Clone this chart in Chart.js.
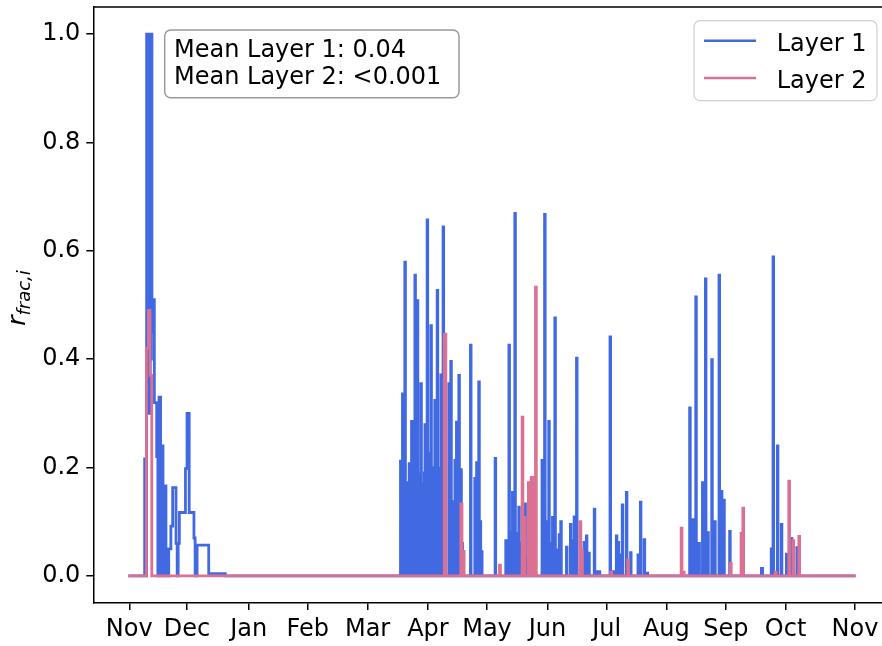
<!DOCTYPE html>
<html>
<head>
<meta charset="utf-8">
<script src="https://cdn.jsdelivr.net/npm/chart.js@4.4.1/dist/chart.umd.min.js"></script>
<style>
    html, body {margin: 0; padding: 0; background: #fff;}
    #wrap {width: 882px; height: 646px;}
</style>
</head>
<body>
<div id="wrap"><canvas id="myChart" width="882" height="646"></canvas></div>
<script>
// days since start of record (Nov), value held until next point
const layer1 = [
    [0, 0], [8.3, 0.216], [8.8, 0],
    [9.3, 1.0], [9.6, 0.3], [9.9, 1.0], [10.2, 0.35], [10.5, 1.0], [10.8, 0.3], [11.1, 1.0], [11.4, 0.4], [11.7, 1.0], [12.0, 0.45],
    [12.3, 0.51], [13.2, 0.32], [14.4, 0.22], [15.0, 0], [15.6, 0.33], [16.4, 0], [17.1, 0.24], [17.6, 0],
    [18.1, 0.166], [19.1, 0], [20.5, 0.05], [21.6, 0.092], [22.5, 0.163], [24.2, 0.06], [24.8, 0], [25.3, 0.06],
    [25.9, 0.117], [29.0, 0.198], [29.8, 0.30], [30.9, 0.117], [33.3, 0.07], [33.9, 0], [34.9, 0.057], [40.8, 0.004], [49.2, 0],
    // April
    [138.1, 0.212], [138.4, 0], [138.6, 0.15], [138.85, 0],
    [139.1, 0.336], [139.4, 0], [139.7, 0.17], [140.0, 0],
    [140.3, 0.579], [140.6, 0], [140.9, 0.16], [141.2, 0],
    [141.5, 0.172], [141.8, 0], [142.0, 0.15], [142.25, 0],
    [142.5, 0.207], [142.8, 0], [143.1, 0.19], [143.4, 0],
    [143.7, 0.285], [144.0, 0], [144.4, 0.17], [144.7, 0], [145.0, 0.18], [145.2, 0],
    [145.4, 0.555], [145.7, 0], [146.0, 0.2], [146.3, 0],
    [146.6, 0.508], [146.9, 0], [147.2, 0.17], [147.4, 0],
    [147.6, 0.188], [147.9, 0], [148.1, 0.16], [148.2, 0],
    [148.4, 0.355], [148.7, 0], [149.0, 0.17], [149.3, 0],
    [149.6, 0.15], [149.9, 0], [150.2, 0.19], [150.3, 0],
    [150.5, 0.279], [150.8, 0], [151.1, 0.16], [151.3, 0],
    [151.6, 0.657], [151.9, 0], [152.2, 0.2], [152.4, 0],
    [152.6, 0.226], [152.9, 0], [153.2, 0.18], [153.3, 0],
    [153.5, 0.462], [153.8, 0], [154.1, 0.17], [154.4, 0],
    [154.7, 0.174], [155.0, 0], [155.2, 0.2], [155.3, 0],
    [155.5, 0.324], [155.8, 0], [156.1, 0.16], [156.4, 0],
    [156.7, 0.527], [157.0, 0], [157.3, 0.18], [157.5, 0],
    [157.7, 0.199], [158.0, 0], [158.3, 0.15], [158.4, 0],
    [158.6, 0.371], [158.9, 0], [159.2, 0.2], [159.4, 0],
    [159.7, 0.644], [160.0, 0],
    [162.6, 0.355], [162.9, 0], [163.2, 0.15], [163.4, 0],
    [163.6, 0.396], [163.9, 0], [164.2, 0.12], [164.3, 0],
    [164.5, 0.137], [164.8, 0], [165.2, 0.1], [165.4, 0],
    [165.7, 0.213], [166.0, 0], [166.3, 0.14], [166.4, 0],
    [166.5, 0.284], [166.8, 0], [167.2, 0.15], [167.4, 0],
    [167.7, 0.37], [168.0, 0], [168.3, 0.12], [168.5, 0],
    [168.7, 0.196], [169.0, 0], [169.4, 0.06], [169.6, 0],
    [169.9, 0.045], [170.2, 0],
    [173.6, 0.426], [173.9, 0],
    [175.8, 0.18], [176.1, 0], [176.4, 0.1], [176.6, 0], [176.7, 0.209], [177.0, 0], [177.3, 0.12], [177.5, 0],
    [177.8, 0.358], [178.1, 0], [178.5, 0.1], [178.8, 0], [179.2, 0.045], [179.5, 0],
    // May - June
    [186.1, 0.217], [186.4, 0],
    [191.5, 0.065], [191.8, 0], [192.2, 0.04], [192.5, 0], [193.1, 0.426], [193.4, 0], [194.0, 0.08], [194.3, 0],
    [194.9, 0.154], [195.2, 0], [195.6, 0.09], [195.8, 0], [196.1, 0.669], [196.4, 0], [197.1, 0.079], [197.4, 0],
    [198.1, 0.127], [198.4, 0], [199.6, 0.06], [199.9, 0], [201.2, 0.133], [201.5, 0], [202.5, 0.03], [202.8, 0],
    [209.9, 0.213], [210.2, 0], [210.6, 0.08], [210.9, 0], [211.2, 0.667], [211.5, 0], [212.0, 0.1], [212.6, 0],
    [213.3, 0.285], [213.6, 0], [214.2, 0.06], [214.5, 0], [215.2, 0.108], [215.5, 0], [216.4, 0.476], [216.7, 0],
    [217.4, 0.048], [217.7, 0], [218.6, 0.076], [218.9, 0], [219.4, 0.1], [219.7, 0],
    [222.3, 0.053], [222.6, 0], [224.3, 0.095], [224.6, 0], [225.3, 0.065], [225.6, 0], [226.2, 0.109], [226.5, 0],
    [227.4, 0.402], [227.7, 0],
    [231.2, 0.062], [231.5, 0], [232.4, 0.074], [232.7, 0], [233.6, 0.042], [233.9, 0], [236.4, 0.123], [236.7, 0],
    [237.7, 0.008], [239.2, 0],
    // July
    [244.4, 0.441], [244.7, 0], [245.5, 0.008], [246.2, 0], [247.6, 0.074], [247.9, 0], [248.5, 0.062], [248.8, 0],
    [249.3, 0.039], [249.6, 0], [250.6, 0.131], [250.9, 0], [252.7, 0.154], [253.0, 0], [254.8, 0.043], [255.1, 0],
    [258.6, 0.039], [258.9, 0], [259.8, 0.136], [260.1, 0], [261.7, 0.067], [262.0, 0], [262.5, 0.005], [263.5, 0],
    // Aug - Sep
    [284.8, 0.31], [285.1, 0], [286.5, 0.104], [286.8, 0], [287.9, 0.515], [288.2, 0], [289.5, 0.06], [289.8, 0],
    [291.3, 0.172], [291.6, 0], [292.8, 0.548], [293.1, 0], [294.0, 0.08], [294.3, 0], [296.0, 0.399], [296.3, 0],
    [297.5, 0.1], [297.8, 0], [299.7, 0.555], [300.0, 0], [300.9, 0.156], [301.2, 0], [302.1, 0.14], [302.4, 0],
    [305.1, 0.082], [305.4, 0],
    // Sep - Oct
    [321.2, 0.014], [321.8, 0],
    [326.2, 0.05], [326.5, 0], [327.1, 0.589], [327.4, 0], [329.3, 0.24], [329.6, 0], [331.3, 0.095], [331.6, 0],
    [333.9, 0.04], [334.2, 0], [335.5, 0.06], [335.8, 0], [336.4, 0.069], [336.7, 0], [339.2, 0.052], [339.5, 0],
    [369, 0]
];

const layer2 = [
    [0, 0], [9.2, 0.42], [10.2, 0.49], [11.0, 0.37], [11.9, 0],
    [160.3, 0.446], [161.1, 0],
    [168.7, 0.133], [169.3, 0], [169.9, 0.045], [170.3, 0],
    [188.3, 0.02], [188.8, 0],
    [199.8, 0.293], [200.2, 0], [201.0, 0.108], [201.3, 0], [203.0, 0.172], [203.4, 0],
    [204.4, 0.182], [205.6, 0], [206.6, 0.533], [207.0, 0],
    [229.1, 0.1], [229.6, 0.048], [230.4, 0],
    [244.8, 0.007], [245.2, 0],
    [253.4, 0.03], [253.8, 0],
    [280.5, 0.088], [280.9, 0], [281.5, 0.007], [282.0, 0],
    [305.5, 0.023], [305.9, 0],
    [310.9, 0.079], [311.2, 0], [311.8, 0.125], [312.2, 0],
    [328.2, 0.007], [328.6, 0],
    [335.1, 0.175], [335.5, 0], [337.2, 0.065], [337.6, 0], [340.2, 0.073], [340.6, 0],
    [369, 0]
];

const monthLabels = ['Nov', 'Dec', 'Jan', 'Feb', 'Mar', 'Apr', 'May', 'Jun', 'Jul', 'Aug', 'Sep', 'Oct', 'Nov'];
const monthTicks = [0.5, 29.8, 61.1, 91.1, 121.4, 152.0, 182.0, 212.7, 242.7, 273.0, 303.2, 333.5, 368.7];
const yTicks = [0, 0.2, 0.4, 0.6, 0.8, 1.0];
const seriesNames = ['Layer 1', 'Layer 2'];
const meanLines = ['Mean Layer 1: 0.04', 'Mean Layer 2: <0.001'];

const BLUE = '#4169e1';
const PINK = '#db7093';
const FONT = "'DejaVu Sans'";

Chart.defaults.font.family = FONT;
Chart.defaults.font.size = 24;
Chart.defaults.color = '#000';

function roundRect(c, x, y, w, h, r) {
    c.beginPath();
    c.moveTo(x + r, y);
    c.lineTo(x + w - r, y);
    c.arcTo(x + w, y, x + w, y + r, r);
    c.lineTo(x + w, y + h - r);
    c.arcTo(x + w, y + h, x + w - r, y + h, r);
    c.lineTo(x + r, y + h);
    c.arcTo(x, y + h, x, y + h - r, r);
    c.lineTo(x, y + r);
    c.arcTo(x, y, x + r, y, r);
    c.closePath();
}

const extras = {
    id: 'extras',
    afterDraw(chart) {
        const c = chart.ctx;
        const a = chart.chartArea;
        c.save();
        // top spine
        c.strokeStyle = '#000';
        c.lineWidth = 1.5;
        c.beginPath();
        c.moveTo(a.left, a.top);
        c.lineTo(a.right, a.top);
        c.stroke();

        // mean text box
        roundRect(c, 164.7, 30, 294.3, 67.7, 6);
        c.fillStyle = 'rgba(255,255,255,0.8)';
        c.fill();
        c.strokeStyle = '#9a9a9a';
        c.lineWidth = 1.5;
        c.stroke();
        c.fillStyle = '#000';
        c.font = '24px ' + FONT;
        c.textBaseline = 'alphabetic';
        c.textAlign = 'left';
        c.fillText(meanLines[0], 174, 56.7);
        c.fillText(meanLines[1], 174, 84.3);

        // legend
        roundRect(c, 694, 20.7, 183, 80, 6);
        c.fillStyle = 'rgba(255,255,255,0.8)';
        c.fill();
        c.strokeStyle = '#d0d0d0';
        c.lineWidth = 1.2;
        c.stroke();
        const cols = [BLUE, PINK];
        const ys = [40.7, 78];
        for (let i = 0; i < 2; i++) {
            c.strokeStyle = cols[i];
            c.lineWidth = 2.6;
            c.beginPath();
            c.moveTo(704, ys[i]);
            c.lineTo(756, ys[i]);
            c.stroke();
            c.fillStyle = '#000';
            c.fillText(seriesNames[i], 776.7, ys[i] + 9.9);
        }

        // y axis label r_{frac,i}
        c.translate(25, 298);
        c.rotate(-Math.PI / 2);
        c.font = 'italic 25px ' + FONT;
        const w1 = c.measureText('r').width;
        c.font = 'italic 18px ' + FONT;
        const w2 = c.measureText('frac,i').width;
        const x0 = -(w1 + w2) / 2;
        c.font = 'italic 25px ' + FONT;
        c.fillText('r', x0, 0);
        c.font = 'italic 18px ' + FONT;
        c.fillText('frac,i', x0 + w1, 5);
        c.restore();
    }
};

const ctx = document.getElementById('myChart');
new Chart(ctx, {
    type: 'line',
    data: {
        datasets: [
            {
                label: seriesNames[0],
                data: layer1.map(p => ({x: p[0], y: p[1]})),
                borderColor: BLUE,
                borderWidth: 2.8,
                stepped: 'before',
                pointRadius: 0,
                fill: false,
                order: 1
            },
            {
                label: seriesNames[1],
                data: layer2.map(p => ({x: p[0], y: p[1]})),
                borderColor: PINK,
                borderWidth: 2.8,
                stepped: 'before',
                pointRadius: 0,
                fill: false,
                order: 0
            }
        ]
    },
    options: {
        responsive: false,
        animation: false,
        events: [],
        layout: {padding: {top: 7, right: 0, left: 0, bottom: 0}},
        plugins: {legend: {display: false}, tooltip: {enabled: false}},
        scales: {
            x: {
                type: 'linear',
                min: -17.76,
                max: 382.4,
                afterBuildTicks: s => { s.ticks = monthTicks.map(v => ({value: v})); },
                afterFit: s => { s.height = 43; s.paddingLeft = 0; s.paddingRight = 0; },
                ticks: {
                    autoSkip: false,
                    maxRotation: 0,
                    padding: 5,
                    color: '#000',
                    font: {size: 24},
                    callback: (v, i) => monthLabels[i]
                },
                grid: {drawOnChartArea: false, drawTicks: true, tickLength: 7, color: '#000', lineWidth: 1.5},
                border: {display: true, color: '#000', width: 1.5}
            },
            y: {
                min: -0.05,
                max: 1.05,
                afterBuildTicks: s => { s.ticks = yTicks.map(v => ({value: v})); },
                afterFit: s => { s.width = 93.3; s.paddingTop = 0; s.paddingBottom = 0; },
                ticks: {
                    padding: 6,
                    color: '#000',
                    font: {size: 24},
                    callback: v => v.toFixed(1)
                },
                grid: {drawOnChartArea: false, drawTicks: true, tickLength: 7, color: '#000', lineWidth: 1.5},
                border: {display: true, color: '#000', width: 1.5}
            }
        }
    },
    plugins: [extras]
});
</script>
</body>
</html>
